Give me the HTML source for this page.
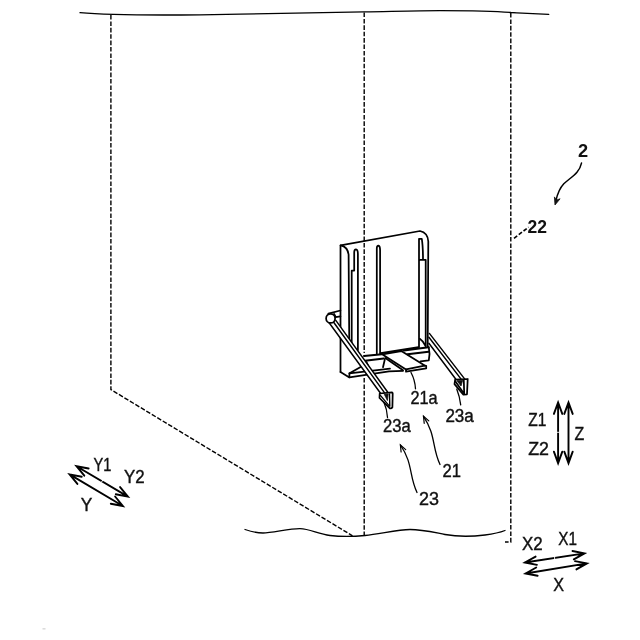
<!DOCTYPE html>
<html><head><meta charset="utf-8"><title>Fig</title>
<style>
html,body{margin:0;padding:0;background:#fff;}
body{width:640px;height:640px;overflow:hidden;}
svg{display:block;will-change:transform;opacity:0.999;}
text{font-family:"Liberation Sans",sans-serif;font-size:17.5px;fill:#111;stroke:#111;stroke-width:0.4;}
text.b{font-weight:bold;stroke:none;}
.l{fill:none;stroke:#000;stroke-width:1.75;stroke-linecap:round;stroke-linejoin:round;}
.t{fill:none;stroke:#000;stroke-width:1.3;stroke-linecap:round;}
.d{fill:none;stroke:#000;stroke-width:1.4;stroke-dasharray:4.6 1.8;}
.a{fill:none;stroke:#000;stroke-width:1.9;stroke-linecap:round;stroke-linejoin:miter;}
.w{fill:#fff;stroke:#000;stroke-width:1.75;stroke-linejoin:round;}
.f{fill:#111;stroke:#111;stroke-width:0.8;stroke-linejoin:round;}
</style></head>
<body>
<svg width="640" height="640" viewBox="0 0 640 640">
<rect width="640" height="640" fill="#fff"/>
<!-- outline -->
<path class="t" d="M80 12.7 C100 14.5 150 15.3 200 14.8 C260 14 330 12.5 364 11.9 C400 11.2 420 10.6 440 10.6 C470 10.6 500 11.5 511 12.5 C525 13.3 540 14 548.7 14.4"/>
<path class="t" d="M245 529.5 C251 531.5 257 533 263 533 C272 533 290 528.5 300 528.7 C310 529 318 534 330 535.5 C340 536.7 355 536.5 365 535.5 C380 534 398 529.5 410 529.5 C422 529.5 432 532 445 534.5 C455 536.3 470 536.8 485 535 C493 534 500 532.5 505 530.5"/>
<path class="d" d="M110.9 15 V389.6 L352.5 535.8"/>
<path class="d" d="M364.2 12.5 V353 M364.2 378 V535"/>
<path class="d" d="M510.8 13 V542 H505"/>
<path class="d" style="stroke-dasharray:4 2;stroke-width:1.6" d="M514 238.3 L528.5 227.2"/>
<!-- device -->
<g id="dev">
<!-- body -->
<path class="l" d="M340.5 372 V245.3 L420 231 Q427.8 232.6 428.3 241.5 L427.7 346.5"/>
<path class="l" d="M340.6 245.3 Q347.5 246.5 348.6 254.5 L349.3 346"/>
<path class="l" d="M351.7 349 V270.6 H354.2 V252.5 Q354.2 249.4 356 249.4 Q357.9 249.6 357.9 254 V350"/>
<path class="l" d="M376.8 353.5 V248.5 Q376.8 245.6 378.4 245.6 Q380.1 246 380.1 250 V353.5"/>
<path class="l" d="M419 347 V238.8 H421.8 Q423 246 423 259.8 M419 259.8 H425.7 V346.5"/>
<path class="l" d="M419.8 338.8 Q422.5 340.5 425.3 345.5"/>
<!-- base -->
<path class="l" d="M340.5 372 L349.4 377.4 V373.3"/>
<path class="l" d="M349.4 377.4 L389 371.3 L403 370.8"/>
<path class="l" d="M349.4 373.3 L390 368.6"/>
<path class="l" d="M350 373 L360.6 366.9"/>
<path class="l" style="stroke-width:2" d="M364 356 L381.9 354.2 M365 360.8 L383.8 358.4"/>
<path class="l" d="M366.5 362 L369.5 368.5 M384.8 359.5 L383 367.2"/>
<path class="l" style="stroke-width:2" d="M380.6 353.2 L418.5 347.3"/>
<path class="l" d="M382.5 354.4 L401.3 351.1 L424.7 365.6 L406 369.4 Z"/>
<path class="l" d="M406 369.4 V371.7 L426.2 368.4 V365.8 L424.7 365.6"/>
<path class="l" d="M385.3 358 L403 370.3"/>
<path class="l" style="stroke-width:2" d="M404 350.4 L428.5 347.3 M407.5 354.2 L428.6 351.8"/>
<path class="l" d="M428.8 347.2 Q430.2 353.5 428.8 360.3 L420.5 361.3"/>
<!-- rods -->
<path class="w" style="stroke:none" d="M329.5 323 L380.9 393.5 L387.4 392 L335.8 320.3 Z"/>
<path class="l" style="stroke-width:1.45" d="M329.3 323 L380.7 393.5 M335.8 320.3 L387.6 392 M333.1 321.5 L384.6 392.8"/>
<path class="l" d="M328.3 313.7 L340.4 310.5 M335.7 317.2 L340.4 316.4 M334.1 314 L335.7 317"/>
<circle class="w" cx="330.6" cy="318.4" r="4.5"/>
<path class="w" d="M379.7 393.5 L391.9 392.3 Q392.7 392.6 392.7 393.6 L392.4 407.2 Q391.6 408.6 389.9 408.3 L379.5 398 Z"/>
<path class="l" style="stroke-width:1.4" d="M389.5 394 L389.8 406.3 M380.6 395.6 L389 405.6"/>
<path class="f" d="M384.3 394.3 L388.2 394 L387.4 400.5 Z"/>
<path class="w" style="stroke:none" d="M429.4 333.4 L465 379.4 L456.6 380.3 L428.9 343.3 Z"/>
<path class="l" style="stroke-width:1.45" d="M429.4 333.4 L465 379.4 M428.9 337.2 L461.3 379.4 M428.9 343.3 L456.6 380.3"/>
<path class="w" d="M455.2 379.5 L467.7 379 L467 394.3 L463.4 394.7 L454.5 384.1 Z"/>
<path class="l" d="M463.8 380.2 L464.2 393.5 M455.5 381.5 L463.5 393"/>
<path class="f" d="M456.8 380.4 L462.7 380.2 L461 386 Z"/>
</g>
<!-- leaders -->
<path class="t" d="M411 372.5 Q415 380 415.5 388.8"/>
<path class="t" d="M456.8 389.2 Q459.6 396 460.7 404.8"/>
<path class="t" d="M384 402.5 Q387 409 387.5 417.5"/>
<path class="t" d="M440 464.5 C432 448 436 435 423.5 416.3"/>
<path class="t" d="M417 492.5 C409 476 413 463 400.4 445"/>
<path class="a" style="stroke-width:1.2" d="M428.8 420.9 L423.5 416.3 L424.2 423.3"/>
<path class="a" style="stroke-width:1.2" d="M405.7 449.6 L400.4 445.0 L401.1 452.0"/>
<path class="a" style="stroke-width:1.5" d="M581.5 163.1 C579.5 173 571 177 563.8 183.8 C558 190 557 196 555.6 202"/>
<path class="f" d="M555.0 205.0 L554.4 196.9 L556.6 200.0 L560.1 198.8 Z"/>
<!-- text -->
<text class="b" transform="translate(578.11 156.90) scale(1.042 1.020)">2</text>
<text class="b" transform="translate(527.49 233.00) scale(1.002 1.045)">22</text>
<text transform="translate(410.43 403.52) scale(0.932 1.002)">21a</text>
<text transform="translate(445.40 422.32) scale(0.973 1.006)">23a</text>
<text transform="translate(382.92 432.43) scale(0.950 0.998)">23a</text>
<text transform="translate(442.42 476.75) scale(0.948 1.020)">21</text>
<text transform="translate(419.10 504.82) scale(1.027 1.006)">23</text>
<text transform="translate(528.28 426.25) scale(0.887 1.035)">Z1</text>
<text transform="translate(528.21 455.00) scale(1.019 1.020)">Z2</text>
<text transform="translate(574.52 440.00) scale(0.909 1.035)">Z</text>
<text transform="translate(522.08 550.00) scale(0.968 1.020)">X2</text>
<text transform="translate(558.37 545.00) scale(0.873 1.035)">X1</text>
<text transform="translate(553.35 590.60) scale(0.922 1.035)">X</text>
<text transform="translate(93.38 471.25) scale(0.836 1.035)">Y1</text>
<text transform="translate(123.98 483.00) scale(0.966 1.020)">Y2</text>
<text transform="translate(80.82 510.60) scale(0.991 1.085)">Y</text>
<!-- arrows -->
<path class="a" d="M558.1 402.4 L558.1 463.2 M562.3 413.9 L558.1 402.4 L553.9 413.9 M553.9 451.7 L558.1 463.2 L562.3 451.7"/>
<path class="a" d="M568.5 402.4 L568.5 463.2 M572.7 413.9 L568.5 402.4 L564.3 413.9 M564.3 451.7 L568.5 463.2 L572.7 451.7"/>
<path class="a" d="M524.9 562.5 L584.5 553.4 M535.6 556.6 L524.9 562.5 L536.9 564.9 M573.8 559.3 L584.5 553.4 L572.5 551.0"/>
<path class="a" d="M525.6 573.5 L587.0 563.4 M536.2 567.5 L525.6 573.5 L537.6 575.8 M576.4 569.4 L587.0 563.4 L575.0 561.1"/>
<path class="a" d="M76.5 466.2 L127.9 496.6 M88.6 468.5 L76.5 466.2 L84.3 475.7 M115.8 494.3 L127.9 496.6 L120.1 487.1"/>
<path class="a" d="M69.6 474.4 L122.9 506.0 M81.7 476.7 L69.6 474.4 L77.4 483.9 M110.8 503.7 L122.9 506.0 L115.1 496.5"/>
<path d="M557 432.3 h2.4 M554.6 556.5 v2.6 M101.5 482 l1.6 -2.4" stroke="#fff" stroke-width="0.9" fill="none"/>
<rect x="42.5" y="628" width="3" height="1.6" fill="#dcdcdc"/>
</svg>
</body></html>
